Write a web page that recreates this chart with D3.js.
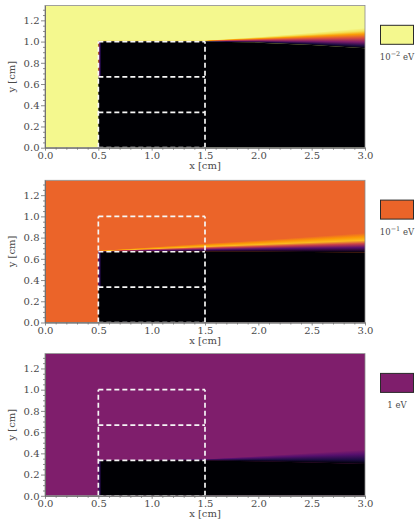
<!DOCTYPE html>
<html><head><meta charset="utf-8">
<script src="https://cdn.jsdelivr.net/npm/d3@7"></script>
<style>body{margin:0;background:#fff}svg{display:block}</style>
</head><body><svg id="c" width="415" height="522"></svg>
<script>
// ---------------- data ----------------
const xTicks = [0.0, 0.5, 1.0, 1.5, 2.0, 2.5, 3.0];
const yTicks = [0.0, 0.2, 0.4, 0.6, 0.8, 1.0, 1.2];
const xMinorTicks = [0.1,0.2,0.3,0.4,0.6,0.7,0.8,0.9,1.1,1.2,1.3,1.4,1.6,1.7,1.8,1.9,2.1,2.2,2.3,2.4,2.6,2.7,2.8,2.9];
const yMinorTicks = [0.05,0.1,0.15,0.25,0.3,0.35,0.45,0.5,0.55,0.65,0.7,0.75,0.85,0.9,0.95,1.05,1.1,1.15,1.25,1.3];
const energyBase = ["10", "10", "1"];
const energyExp = ["\u22122", "\u22121", ""];
// inferno level of the free-stream region (matches the legend swatch)
const backgroundLevel = [0.975, 0.655, 0.35];
// boundary profiles (x in cm)
const profileX = [0.5, 1.5, 2.0, 2.5, 3.0];
const blackTop1 = [1.0, 1.0, 0.99, 0.968, 0.937];
const bandTop1  = [1.012, 1.012, 1.045, 1.085, 1.13];
const blackTop2 = [0.667, 0.667, 0.667, 0.664, 0.66];
const bandTop2  = [0.678, 0.745, 0.775, 0.81, 0.845];
const blackTop3 = [0.333, 0.333, 0.325, 0.314, 0.30];
const bandTop3  = [0.337, 0.347, 0.375, 0.405, 0.435];
// gradient stops across the band [offset from black side, inferno level]
const bandStops1 = [[0,0.0],[0.12,0.12],[0.3,0.35],[0.5,0.58],[0.7,0.78],[0.85,0.92],[1,0.975]];
const bandStops2 = [[0,0.0],[0.25,0.25],[0.45,0.55],[0.62,0.84],[0.8,0.77],[1,0.655]];
const bandStops3 = [[0,0.0],[0.3,0.12],[0.7,0.25],[1,0.35]];
// thin strip at the inlet face x = 0.5
const edgeRanges = [[0.667, 1.0], [0.333, 0.667], [0.0, 0.333]];
const edgeStops1 = [[0,0.68],[0.25,0.35],[0.55,0.15],[1,0.0]];
const edgeStops2 = [[0,0.3],[0.4,0.15],[1,0.0]];
const edgeStops3 = [[0,0.3],[0.4,0.15],[1,0.0]];
// dashed boxes
const boxX = [0.5, 1.5];
const boxLevels = [0, 1/3, 2/3, 1.0];

const panels = [
  {blackTop: blackTop1, bandTop: bandTop1, bandStops: bandStops1, edgeStops: edgeStops1},
  {blackTop: blackTop2, bandTop: bandTop2, bandStops: bandStops2, edgeStops: edgeStops2},
  {blackTop: blackTop3, bandTop: bandTop3, bandStops: bandStops3, edgeStops: edgeStops3}
];

// ---------------- layout ----------------
const panelTop = [5.5, 180.3, 353.6];
const plotLeft = 45, plotRight = 365, plotH = 142.2;
const FONT = "'DejaVu Serif', serif";
const TXT = "#4a4a4a", AX = "#6e6e6e";
const inferno = d3.interpolateInferno;

const svg = d3.select("#c");
const defs = svg.append("defs");

panels.forEach((p, i) => {
  const top = panelTop[i];
  const x = d3.scaleLinear().domain([0, 3]).range([plotLeft, plotRight]);
  const y = d3.scaleLinear().domain([0, 1.34]).range([top + plotH, top]);
  const g = svg.append("g");

  defs.append("clipPath").attr("id", "clip" + i).append("rect")
    .attr("x", plotLeft).attr("y", top).attr("width", plotRight - plotLeft).attr("height", plotH);

  // gradients
  const bg = defs.append("linearGradient").attr("id", "band" + i)
    .attr("x1", 0).attr("y1", 1).attr("x2", 0).attr("y2", 0);
  p.bandStops.forEach(s => bg.append("stop").attr("offset", s[0]).attr("stop-color", inferno(s[1])));
  const eg = defs.append("linearGradient").attr("id", "edge" + i)
    .attr("x1", 0).attr("y1", 0).attr("x2", 1).attr("y2", 0);
  p.edgeStops.forEach(s => eg.append("stop").attr("offset", s[0]).attr("stop-color", inferno(s[1])));

  const plot = g.append("g").attr("clip-path", `url(#clip${i})`);
  // background field
  plot.append("rect").attr("x", plotLeft).attr("y", top)
    .attr("width", plotRight - plotLeft).attr("height", plotH)
    .attr("fill", inferno(backgroundLevel[i]));

  const blackAt = d3.scaleLinear().domain(profileX).range(p.blackTop);
  const bandAt = d3.scaleLinear().domain(profileX).range(p.bandTop);

  // shadowed region
  const area = d3.area().x(d => x(d)).y0(y(0)).y1(d => y(blackAt(d)));
  plot.append("path").datum(profileX).attr("d", area).attr("fill", "#000004");

  // transition band, drawn column by column
  const cols = d3.range(Math.floor(x(profileX[0])), Math.ceil(x(3)) + 1, 1);
  const cx = d => Math.min(3, Math.max(0.5, x.invert(d)));
  plot.append("g").selectAll("rect").data(cols).join("rect")
    .attr("x", d => d)
    .attr("width", 1.15)
    .attr("y", d => y(bandAt(cx(d))))
    .attr("height", d => Math.max(0.6, y(blackAt(cx(d))) - y(bandAt(cx(d)))))
    .attr("fill", `url(#band${i})`);

  // inlet face strip
  plot.append("rect").attr("x", x(0.5)).attr("width", x(0.53) - x(0.5))
    .attr("y", y(edgeRanges[i][1])).attr("height", y(edgeRanges[i][0]) - y(edgeRanges[i][1]))
    .attr("fill", `url(#edge${i})`);

  // dashed boxes
  const dash = sel => sel.attr("fill", "none").attr("stroke", "#f6f6f6")
    .attr("stroke-width", 1.7).attr("stroke-dasharray", "5,3");
  const line = d3.line().x(d => x(d[0])).y(d => y(d[1]));
  boxLevels.forEach(v => {
    g.append("path").datum([[boxX[0], v], [boxX[1], v]]).attr("d", line).call(dash);
  });
  boxX.forEach(v => {
    g.append("path").datum([[v, boxLevels[0]], [v, boxLevels[3]]]).attr("d", line).call(dash);
  });

  // frame
  g.append("rect").attr("x", plotLeft).attr("y", top)
    .attr("width", plotRight - plotLeft).attr("height", plotH)
    .attr("fill", "none").attr("stroke", "#8a8a8a").attr("stroke-width", 0.8);

  // axes
  const xa = g.append("g").attr("transform", `translate(0,${top + plotH})`)
    .call(d3.axisBottom(x).tickValues(xTicks).tickFormat(d3.format(".1f")).tickSize(3).tickSizeOuter(0).tickPadding(1));
  const xm = g.append("g").attr("transform", `translate(0,${top + plotH})`)
    .call(d3.axisBottom(x).tickValues(xMinorTicks).tickFormat("").tickSize(2).tickSizeOuter(0));
  const ya = g.append("g").attr("transform", `translate(${plotLeft},0)`)
    .call(d3.axisLeft(y).tickValues(yTicks).tickFormat(d3.format(".1f")).tickSize(4).tickSizeOuter(0).tickPadding(1.5));
  const ym = g.append("g").attr("transform", `translate(${plotLeft},0)`)
    .call(d3.axisLeft(y).tickValues(yMinorTicks).tickFormat("").tickSize(2).tickSizeOuter(0));
  [xa, xm, ya, ym].forEach(a => {
    a.select(".domain").attr("stroke", AX).attr("stroke-width", 0.8);
    a.selectAll(".tick line").attr("stroke", AX).attr("stroke-width", 0.8);
    a.selectAll(".tick text").attr("fill", TXT).style("font-family", FONT).style("font-size", "10px");
  });

  // axis titles
  g.append("text").attr("x", (plotLeft + plotRight) / 2).attr("y", top + plotH + 21.5)
    .attr("text-anchor", "middle").attr("fill", TXT).style("font-family", FONT).style("font-size", "10px")
    .text("x [cm]");
  g.append("text").attr("transform", `translate(14.5,${top + plotH / 2}) rotate(-90)`)
    .attr("text-anchor", "middle").attr("fill", TXT).style("font-family", FONT).style("font-size", "10px")
    .text("y [cm]");

  // legend swatch
  const bx = 380.5, by = top + 19.8, bw = 33, bh = 19;
  g.append("rect").attr("x", bx).attr("y", by).attr("width", bw).attr("height", bh)
    .attr("fill", inferno(backgroundLevel[i])).attr("stroke", "#2a2a2a").attr("stroke-width", 1);
  const lt = g.append("text").attr("x", bx + bw / 2).attr("y", by + bh + 15.5)
    .attr("text-anchor", "middle").attr("fill", TXT).style("font-family", FONT).style("font-size", "8.5px");
  lt.append("tspan").text(energyBase[i]);
  if (energyExp[i]) {
    lt.append("tspan").attr("dy", -3.5).style("font-size", "6.5px").text(energyExp[i]);
    lt.append("tspan").attr("dy", 3.5).text("\u00a0eV");
  } else {
    lt.append("tspan").text("\u00a0eV");
  }
});
</script></body></html>
